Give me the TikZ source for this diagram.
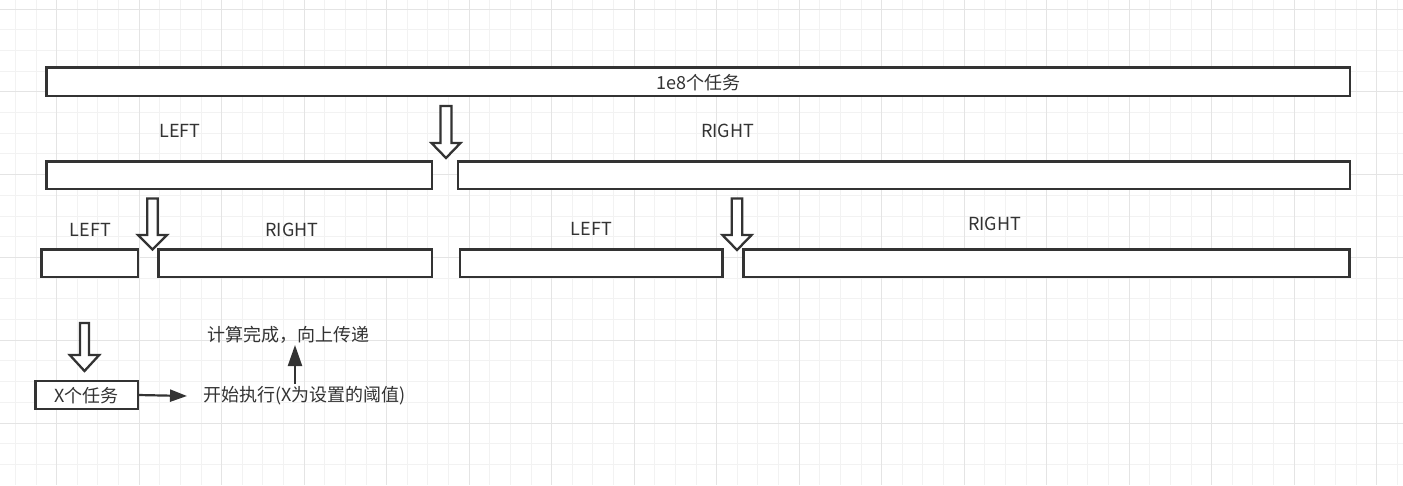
\documentclass[tikz,border=0pt]{standalone}
\usepackage{fontspec}
\setmainfont{Noto Sans CJK SC}
\usetikzlibrary{arrows.meta}
\definecolor{gridminor}{RGB}{242,242,242}
\definecolor{gridmajor}{RGB}{228,228,228}
\definecolor{ink}{RGB}{51,51,51}
\newcommand{\myhollowarrow}[6]{% cx, top, headbase, tip, shaft half width, head half width
  \draw[hollow] (#1-#5,#2) -- (#1+#5,#2) -- (#1+#5,#3) -- (#1+#6,#3) -- (#1,#4)
    -- (#1-#6,#3) -- (#1-#5,#3) -- cycle;}
\begin{document}
\begin{tikzpicture}[x=1pt,y=-1pt,
  box/.style={draw=ink,line width=2.3pt,fill=white,rectangle,inner sep=0pt,outer sep=0pt},
  hollow/.style={draw=ink,line width=2.3pt,fill=white,line join=miter},
  lbl/.style={text=ink,inner sep=0pt,anchor=center,font=\fontsize{18}{21}\selectfont},
  conn/.style={draw=ink,line width=2.2pt},
  rtipstyle/.style={-{Triangle[length=17pt,width=12pt]}},
  utipstyle/.style={-{Triangle[length=21pt,width=14pt]}}]
\useasboundingbox (0,0) rectangle (1403,485);
\fill[white] (0,0) rectangle (1403,485);
% grid
\foreach \k in {0,...,67}{
  \pgfmathsetmacro\xx{15.45+20.625*\k}
  \draw[gridminor,line width=1pt] (\xx,0) -- (\xx,485);}
\foreach \k in {0,...,22}{
  \pgfmathsetmacro\yy{9+20.7*\k}
  \draw[gridminor,line width=1pt] (0,\yy) -- (1403,\yy);}
\foreach \k in {2,6,...,66}{
  \pgfmathsetmacro\xx{15.45+20.625*\k}
  \draw[gridmajor,line width=1pt] (\xx,0) -- (\xx,485);}
\foreach \k in {0,4,...,20}{
  \pgfmathsetmacro\yy{9+20.7*\k}
  \draw[gridmajor,line width=1pt] (0,\yy) -- (1403,\yy);}
% boxes
\node[box,minimum width=1303.5pt,minimum height=28.5pt] (b1) at (698.25,81.75) {};
\node[box,minimum width=385.5pt,minimum height=27.5pt] (b2l) at (239.25,175.25) {};
\node[box,minimum width=892pt,minimum height=27.5pt] (b2r) at (904,175.25) {};
\node[box,minimum width=96.5pt,minimum height=27.5pt] (b3a) at (89.75,263.25) {};
\node[box,minimum width=273.5pt,minimum height=27.5pt] (b3b) at (295.25,263.25) {};
\node[box,minimum width=262.5pt,minimum height=27.5pt] (b3c) at (591.25,263.25) {};
\node[box,minimum width=606pt,minimum height=27.5pt] (b3d) at (1046.5,263.25) {};
\node[box,minimum width=102.5pt,minimum height=28pt] (bx) at (86.75,395) {};
% hollow arrows
\myhollowarrow{446}{106}{143}{158}{5.5}{14.5}
\myhollowarrow{152.5}{198.5}{235}{249.5}{5.2}{14.5}
\myhollowarrow{737}{198.5}{235}{250}{5.3}{14.6}
\myhollowarrow{84.5}{323}{355}{371}{4.5}{14.7}
% labels
\node[lbl] (t1) at (698.7,83) {1e8个任务};
\node[lbl] (l1) at (180,130.5) {LEFT};
\node[lbl] (r1) at (727.5,130.5) {RIGHT};
\node[lbl] (l2a) at (90.3,229.5) {LEFT};
\node[lbl] (r2a) at (292,229.8) {RIGHT};
\node[lbl] (l2b) at (591.3,229.2) {LEFT};
\node[lbl] (r2b) at (994.5,224.2) {RIGHT};
\node[lbl] (tx) at (86.7,395.5) {X个任务};
\node[lbl] (start) at (304.5,396) {开始执行(X为设置的阈值)};
\node[lbl] (done) at (288,335) {计算完成，向上传递};
% connectors
\coordinate (rtip) at (187,396);
\coordinate (ufoot) at (295,384);
\coordinate (utip) at (295,345);
\draw[conn,rtipstyle] (bx.east) -- (rtip);
\draw[conn,utipstyle] (ufoot) -- (utip);
\end{tikzpicture}
\end{document}
